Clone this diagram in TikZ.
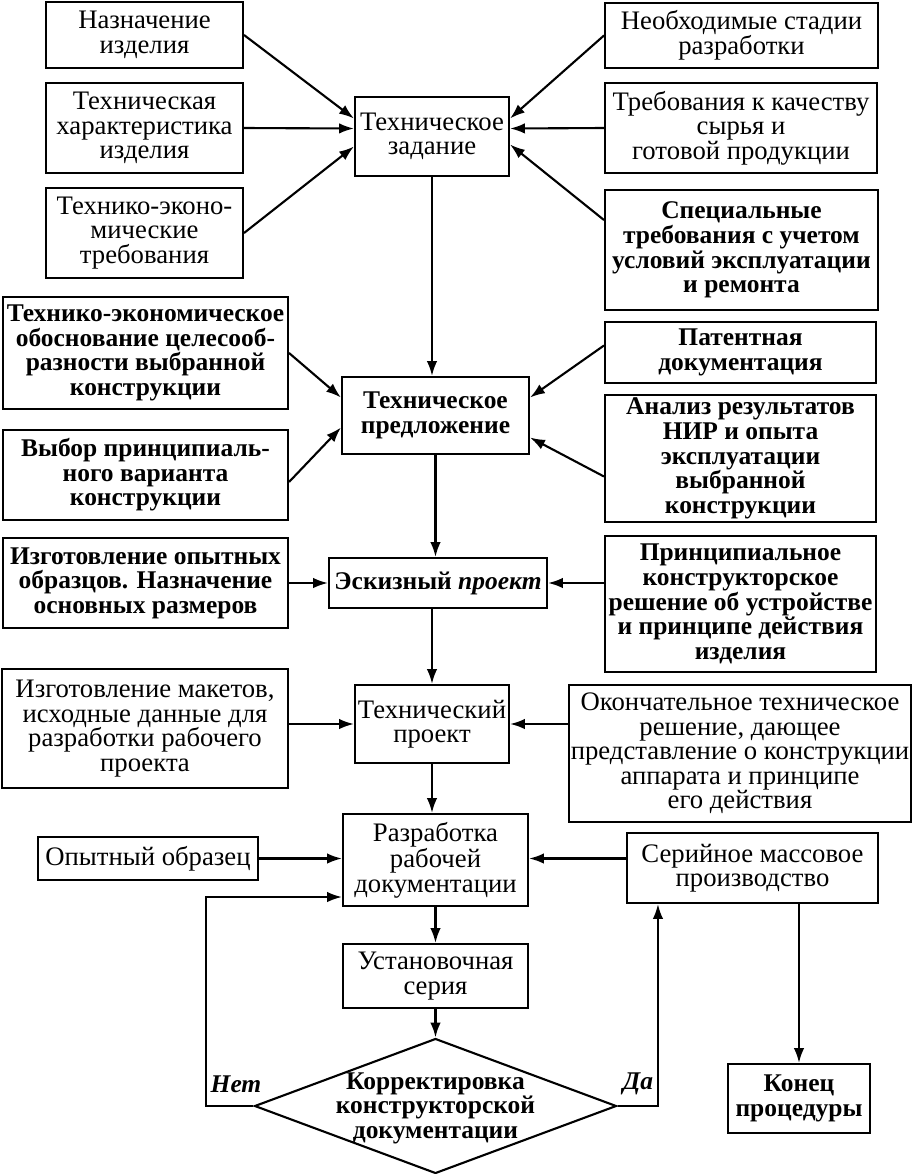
\documentclass[tikz,border=0pt]{standalone}
\usepackage{fontspec}
\setmainfont{Liberation Serif}
\usetikzlibrary{arrows.meta,shapes.geometric,calc}
\tikzset{
txt/.style={align=center,inner sep=1pt,font=\fontsize{15.2pt}{14pt}\selectfont},
txtb/.style={txt,font=\fontsize{14.5pt}{14pt}\selectfont\bfseries},
box/.style={txt,draw,line width=1.2pt},
boxb/.style={txtb,draw,line width=1.2pt},
arr/.style={line width=1.2pt,-{Latex[length=8.5pt,width=6pt]}}
}
\begin{document}
\begin{tikzpicture}[x=0.02cm,y=-0.02cm]
\useasboundingbox (0,0) rectangle (914,1174);
\node[box,minimum width=3.94cm,minimum height=1.32cm] (nazn) at (144.5,35) {Назначение\\изделия};
\node[box,minimum width=3.94cm,minimum height=1.8cm] (harakt) at (144.5,128) {Техническая\\характеристика\\изделия};
\node[box,minimum width=3.94cm,minimum height=1.8cm] (tekon) at (144.5,233) {Технико-эконо-\\мические\\требования};
\node[box,minimum width=3.08cm,minimum height=1.58cm] (tz) at (432,136.5) {Техническое\\задание};
\node[box,minimum width=5.46cm,minimum height=1.3cm] (stadii) at (741.5,35.5) {Необходимые стадии\\разработки};
\node[box,minimum width=5.44cm,minimum height=1.8cm] (kach) at (741,128) {Требования к качеству\\сырья и\\готовой продукции};
\node[boxb,minimum width=5.46cm,minimum height=2.4cm] (spec) at (741.5,250) {Специальные\\требования с учетом\\условий эксплуатации\\и ремонта};
\node[boxb,minimum width=5.7cm,minimum height=2.24cm] (obosn) at (145.5,353) {Технико-экономическое\\обоснование целесооб-\\разности выбранной\\конструкции};
\node[boxb,minimum width=5.7cm,minimum height=1.8cm] (vybor) at (145.5,475) {Выбор принципиаль-\\ного варианта\\конструкции};
\node[boxb,minimum width=3.74cm,minimum height=1.54cm] (tp) at (435.5,415.5) {Техническое\\предложение};
\node[boxb,minimum width=5.42cm,minimum height=1.22cm] (patent) at (740.5,352.5) {Патентная\\документация};
\node[boxb,minimum width=5.42cm,minimum height=2.54cm] (analiz) at (740.5,458.5) {Анализ результатов\\НИР и опыта\\эксплуатации\\выбранной\\конструкции};
\node[boxb,minimum width=5.7cm,minimum height=1.8cm] (opyt) at (145.5,583) {Изготовление опытных\\образцов. Назначение\\основных размеров};
\node[boxb,minimum width=4.36cm,minimum height=1cm] (eskiz) at (438,583) {Эскизный \textit{проект}};
\node[boxb,minimum width=5.42cm,minimum height=2.72cm] (princ) at (740.5,604) {Принципиальное\\конструкторское\\решение об устройстве\\и принципе действия\\изделия};
\node[box,minimum width=5.72cm,minimum height=2.38cm] (maket) at (145,728.5) {Изготовление макетов,\\исходные данные для\\разработки рабочего\\проекта};
\node[box,minimum width=3.08cm,minimum height=1.56cm] (tpr) at (432,724) {Технический\\проект};
\node[box,minimum width=6.84cm,minimum height=2.74cm] (okonch) at (740,753.5) {Окончательное техническое\\решение, дающее\\представление о конструкции\\аппарата и принципе\\его действия};
\node[box,minimum width=3.7cm,minimum height=1.84cm] (razr) at (435.5,860) {Разработка\\рабочей\\документации};
\node[box,minimum width=4.4cm,minimum height=0.86cm] (obrazec) at (148,858.5) {Опытный образец};
\node[box,minimum width=5.02cm,minimum height=1.4cm] (serij) at (752.5,868) {Серийное массовое\\производство};
\node[box,minimum width=3.7cm,minimum height=1.28cm] (ustan) at (435.5,976) {Установочная\\серия};
\node[draw,diamond,line width=1.2pt,inner sep=0pt,minimum width=7.24cm,minimum height=2.7cm] (korr) at (435.5,1106) {};
\node[txtb] (korrtxt) at (435.5,1108) {Корректировка\\конструкторской\\документации};
\node[boxb,minimum width=2.84cm,minimum height=1.38cm] (konec) at (799,1098.5) {Конец\\процедуры};
\node[txtb] (netl) at (236,1084) {\itshape Нет};
\node[txtb] (dal) at (638,1084) {\itshape Да};
\draw[arr] (nazn.east) -- ($(tz.west)+(0,-18)$);
\draw[arr] (harakt.east) -- ($(tz.west)+(0,-8)$);
\draw[arr] (tekon.east) -- ($(tz.west)+(0,10)$);
\draw[arr] (stadii.west) -- ($(tz.east)+(0,-18)$);
\draw[arr] (kach.west) -- ($(tz.east)+(0,-8)$);
\draw[arr] ($(spec.west)+(0,-30)$) -- ($(tz.east)+(0,8)$);
\draw[arr] (tz.south) -- (tz.south |- tp.north);
\draw[arr] (obosn.east) -- ($(tp.west)+(0,-18)$);
\draw[arr] ($(vybor.east)+(0,7)$) -- ($(tp.west)+(0,12)$);
\draw[arr] ($(patent.west)+(0,-7)$) -- ($(tp.east)+(0,-18)$);
\draw[arr] ($(analiz.west)+(0,18)$) -- ($(tp.east)+(0,22)$);
\draw[arr] (tp.south) -- (tp.south |- eskiz.north);
\draw[arr] (opyt.east) -- (eskiz.west);
\draw[arr] (princ.west |- eskiz.east) -- (eskiz.east);
\draw[arr] (tpr.north |- eskiz.south) -- (tpr.north);
\draw[arr] (maket.east |- tpr.west) -- (tpr.west);
\draw[arr] (okonch.west |- tpr.east) -- (tpr.east);
\draw[arr] (tpr.south) -- (tpr.south |- razr.north);
\draw[arr] (obrazec.east) -- (obrazec.east -| razr.west);
\draw[arr] (serij.west |- obrazec.east) -- (razr.east |- obrazec.east);
\draw[arr] (razr.south) -- (ustan.north);
\draw[arr] (ustan.south) -- (korr.north);
\coordinate (net) at (206,897);
\draw[arr] (korr.west) -| (net) -- (net -| razr.west);
\draw[arr] (korr.east) -| ($(serij.south west)+(32,0)$);
\draw[arr] (serij.south -| konec.north) -- (konec.north);
\end{tikzpicture}
\end{document}
